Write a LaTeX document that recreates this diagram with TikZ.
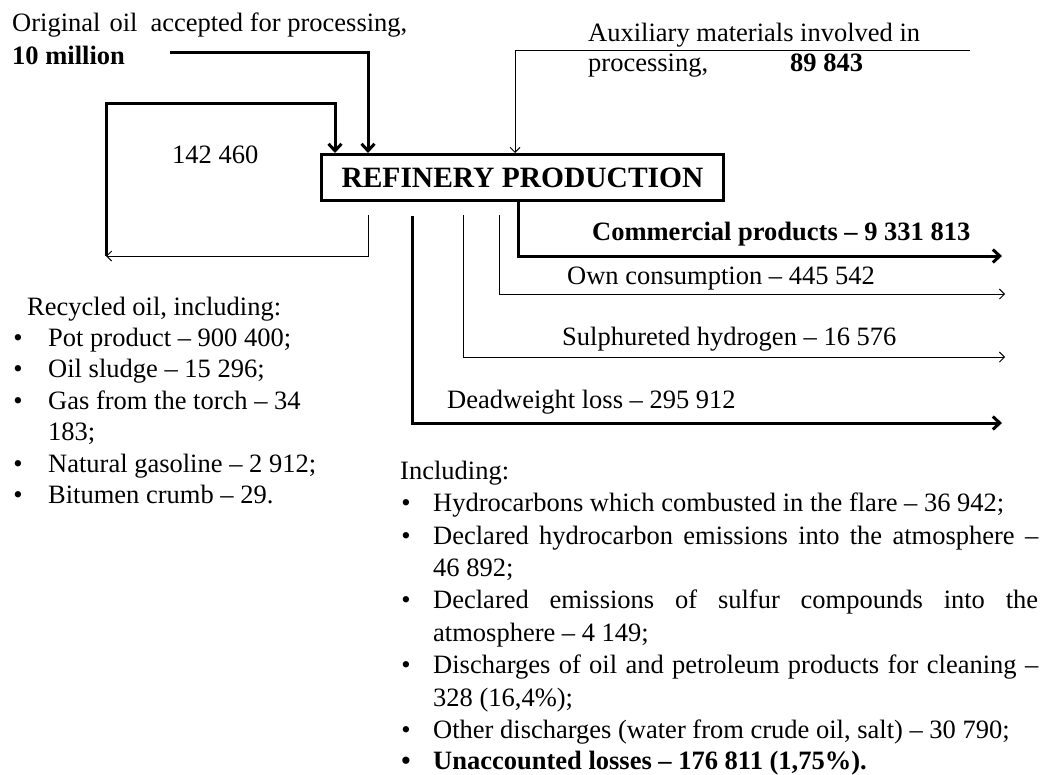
\documentclass[tikz,border=0pt]{standalone}
\usepackage{fontspec}
\setmainfont{Liberation Serif}
\usetikzlibrary{arrows.meta}
\begin{document}
\begin{tikzpicture}[x=1pt,y=-1pt,
  txt/.style={anchor=west,inner sep=0pt,font=\fontsize{26.5}{30}\selectfont,text height=18.5pt,text depth=5.8pt},
  btxt/.style={txt,font=\fontsize{26.5}{30}\selectfont\bfseries},
  bul/.style={anchor=center,inner sep=0pt,font=\fontsize{26.5}{30}\selectfont,text height=18.5pt,text depth=5.8pt},
  thickline/.style={line width=3pt},
  thinline/.style={line width=0.9pt},
  thickarrow/.style={thickline,-{Straight Barb[length=7pt,width=13pt,line width=3pt]}},
  thinarrow/.style={thinline,-{Straight Barb[length=5pt,width=10pt,line width=0.9pt]}},
  procbox/.style={draw,line width=3pt,minimum width=402pt,minimum height=46pt,inner sep=0pt,
     font=\fontsize{29.5}{32}\selectfont\bfseries},
]
\fill[white] (0,0) rectangle (1040,774);
\useasboundingbox (0,0) rectangle (1040,774);

% central box
\node[procbox] (ref) at (522.5,177.5) {REFINERY PRODUCTION};

% original oil input
\node[txt] (orig) at (12,25) {Original\hspace{9pt}oil\hspace{13pt}accepted for processing,};
\node[btxt] (origv) at (12,58) {10 million};
\coordinate (oA) at (170,52);
\coordinate (oB) at (368,52);
\draw[thickarrow] (oA) -- (oB) -- (oB |- ref.north);

% recycled loop
\coordinate (lA) at (106,256);
\coordinate (lB) at (106,103);
\coordinate (lC) at (335,103);
\draw[thickarrow] (lA) -- (lB) -- (lC) -- (lC |- ref.north);
\node[txt] (loopv) at (172,157) {142 460};
\coordinate (rA) at (368,215);
\coordinate (rB) at (368,256);
\draw[thinarrow] (rA) -- (rB) -- (lA);

% auxiliary materials
\node[txt] (aux1) at (588,35) {Auxiliary materials involved in};
\node[txt] (aux2) at (588,65) {processing,};
\node[btxt] (auxv) at (790,65) {89 843};
\coordinate (aA) at (970,50);
\coordinate (aB) at (515,50);
\draw[thinarrow] (aA) -- (aB) -- (aB |- ref.north);

% outputs
\coordinate (cA) at (518,256);
\coordinate (cB) at (1002,256);
\draw[thickarrow] (cA |- ref.south) -- (cA) -- (cB);
\node[btxt] (comm) at (592,234) {Commercial products – 9 331 813};

\coordinate (wA) at (499,215);
\coordinate (wB) at (499,294);
\coordinate (wC) at (1005,294);
\draw[thinarrow] (wA) -- (wB) -- (wC);
\node[txt] (own) at (567,278) {Own consumption – 445 542};

\coordinate (sA) at (463,215);
\coordinate (sB) at (463,357);
\coordinate (sC) at (1005,357);
\draw[thinarrow] (sA) -- (sB) -- (sC);
\node[txt] (sul) at (562,339) {Sulphureted hydrogen – 16 576};

\coordinate (dA) at (412,216);
\coordinate (dB) at (412,423);
\coordinate (dC) at (1002,423);
\draw[thickarrow] (dA) -- (dB) -- (dC);
\node[txt] (dead) at (447,402) {Deadweight loss – 295 912};

% recycled oil list
\node[txt] (rec) at (27,309) {Recycled oil, including:};
\node[bul] (rb1) at (18,340) {•};
\node[txt] (r1) at (48,340) {Pot product – 900 400;};
\node[bul] (rb2) at (18,371) {•};
\node[txt] (r2) at (48,371) {Oil sludge – 15 296;};
\node[bul] (rb3) at (18,403) {•};
\node[txt] (r3) at (48,403) {Gas from the torch – 34};
\node[txt] (r3b) at (48,434) {183;};
\node[bul] (rb4) at (18,466) {•};
\node[txt] (r4) at (48,466) {Natural gasoline – 2 912;};
\node[bul] (rb5) at (18,497) {•};
\node[txt] (r5) at (48,497) {Bitumen crumb – 29.};

% losses list
\node[txt] (inc) at (400,473) {Including:};
\node[bul] (ib1) at (406,505) {•};
\node[txt] (i1) at (433,505) {Hydrocarbons which combusted in the flare – 36 942;};
\node[bul] (ib2) at (406,538) {•};
\node[txt] (i2) at (433,538) {\makebox[605pt][s]{Declared hydrocarbon emissions into the atmosphere –}};
\node[txt] (i2b) at (433,570) {46 892;};
\node[bul] (ib3) at (406,602) {•};
\node[txt] (i3) at (433,602) {\makebox[605pt][s]{Declared emissions of sulfur compounds into the}};
\node[txt] (i3b) at (433,635) {atmosphere – 4 149;};
\node[bul] (ib4) at (406,667) {•};
\node[txt] (i4) at (433,667) {\makebox[605pt][s]{Discharges of oil and petroleum products for cleaning –}};
\node[txt] (i4b) at (433,700) {328 (16,4\%);};
\node[bul] (ib5) at (406,732) {•};
\node[txt] (i5) at (433,732) {Other discharges (water from crude oil, salt) – 30 790;};
\node[bul] (ib6) at (406,763) {\textbf{•}};
\node[btxt] (i6) at (433,763) {Unaccounted losses – 176 811 (1,75\%).};
\end{tikzpicture}
\end{document}
